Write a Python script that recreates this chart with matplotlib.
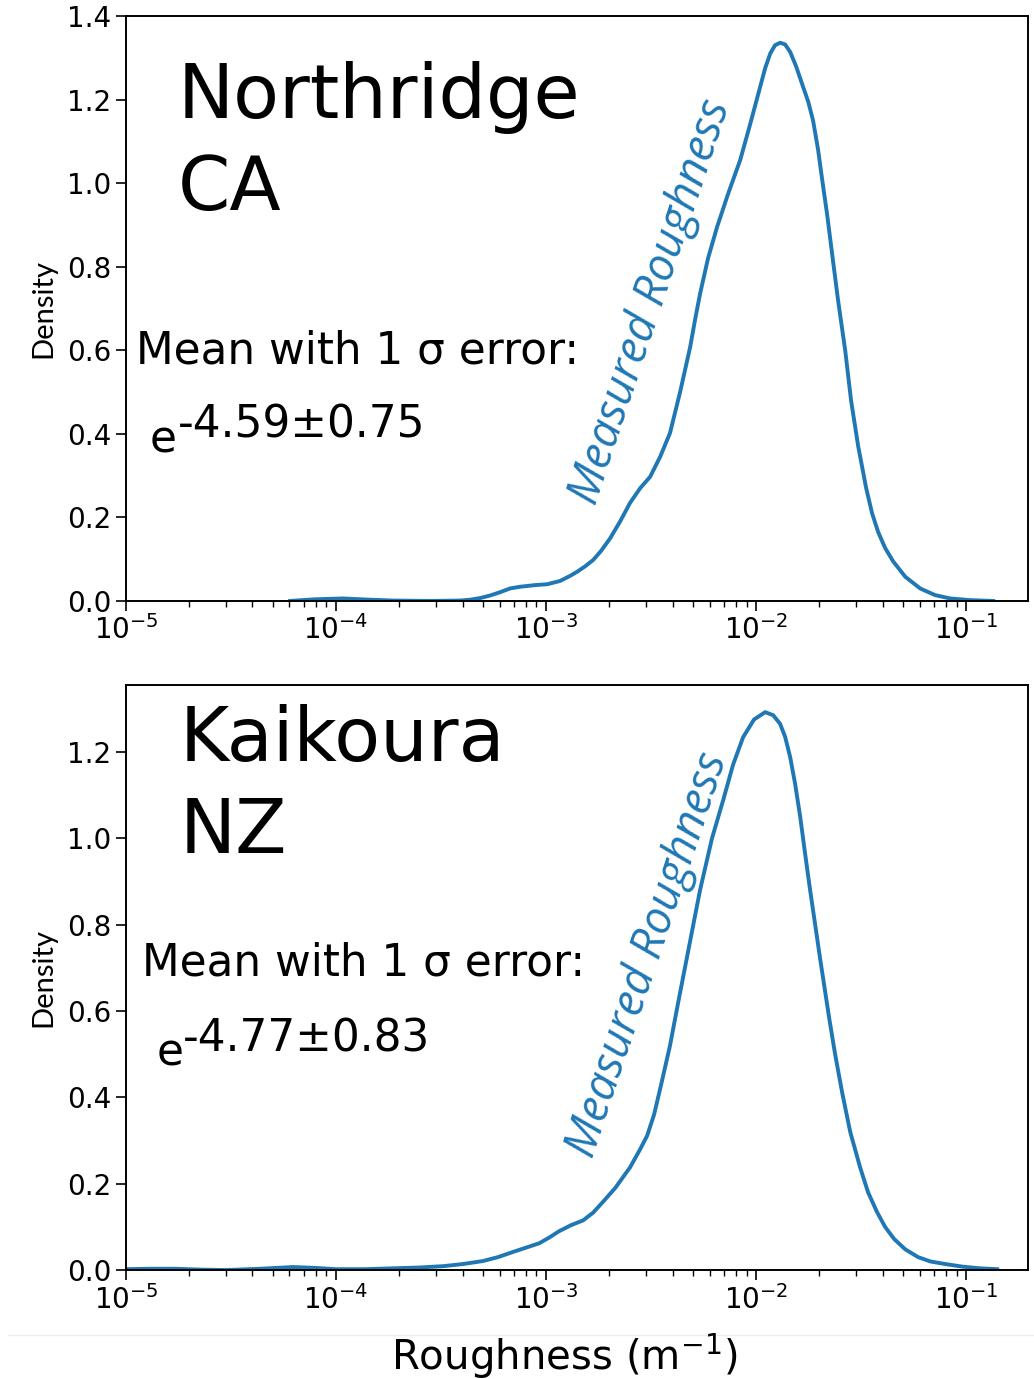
import numpy as np
import matplotlib
matplotlib.use("Agg")
import matplotlib.pyplot as plt
from matplotlib.lines import Line2D

# --- data: log10(roughness [1/m]) and KDE density ---
north_log_r = [-4.219, -4.100, -3.967, -3.838, -3.729, -3.552, -3.410, -3.362,
               -3.314, -3.267, -3.219, -3.171, -3.124, -3.052, -2.995, -2.933,
               -2.886, -2.852, -2.814, -2.776, -2.738, -2.695, -2.648, -2.600,
               -2.552, -2.505, -2.457, -2.410, -2.362, -2.314, -2.290, -2.267,
               -2.229, -2.186, -2.133, -2.076, -2.029, -1.981, -1.957, -1.933,
               -1.910, -1.886, -1.862, -1.838, -1.810, -1.776, -1.752, -1.729,
               -1.705, -1.686, -1.662, -1.638, -1.610, -1.576, -1.548, -1.514,
               -1.476, -1.448, -1.419, -1.386, -1.348, -1.290, -1.219, -1.148,
               -1.076, -0.981, -0.871]
north_dens = [0.0, 0.004, 0.006, 0.003, 0.001, 0.0, 0.001, 0.003,
              0.007, 0.013, 0.021, 0.030, 0.034, 0.038, 0.040, 0.048,
              0.060, 0.070, 0.083, 0.098, 0.120, 0.150, 0.190, 0.235,
              0.270, 0.297, 0.345, 0.402, 0.500, 0.608, 0.675, 0.735,
              0.820, 0.895, 0.975, 1.055, 1.140, 1.230, 1.275, 1.310,
              1.330, 1.336, 1.332, 1.314, 1.280, 1.230, 1.195, 1.150,
              1.080, 1.010, 0.925, 0.830, 0.720, 0.600, 0.480, 0.370,
              0.270, 0.210, 0.165, 0.127, 0.095, 0.058, 0.030, 0.014,
              0.006, 0.002, 0.0]

kaik_log_r = [-5.0, -4.886, -4.762, -4.648, -4.524, -4.362, -4.205, -4.100,
              -4.0, -3.862, -3.729, -3.600, -3.490, -3.395, -3.300, -3.229,
              -3.157, -3.095, -3.033, -2.986, -2.938, -2.881, -2.824, -2.776,
              -2.729, -2.671, -2.600, -2.552, -2.519, -2.486, -2.452, -2.410,
              -2.371, -2.319, -2.267, -2.210, -2.157, -2.110, -2.062, -2.010,
              -1.957, -1.919, -1.886, -1.862, -1.838, -1.814, -1.790, -1.767,
              -1.743, -1.719, -1.695, -1.652, -1.624, -1.590, -1.552, -1.505,
              -1.467, -1.424, -1.386, -1.343, -1.290, -1.229, -1.171, -1.100,
              -1.019, -0.933, -0.852]
kaik_dens = [0.002, 0.003, 0.003, 0.001, 0.0, 0.003, 0.007, 0.005,
             0.002, 0.002, 0.004, 0.006, 0.009, 0.014, 0.021, 0.030,
             0.042, 0.052, 0.062, 0.075, 0.090, 0.104, 0.115, 0.133,
             0.158, 0.190, 0.238, 0.280, 0.311, 0.360, 0.430, 0.520,
             0.620, 0.750, 0.880, 1.000, 1.088, 1.170, 1.234, 1.275,
             1.292, 1.285, 1.265, 1.235, 1.188, 1.125, 1.049, 0.965,
             0.880, 0.800, 0.720, 0.583, 0.500, 0.410, 0.320, 0.238,
             0.180, 0.134, 0.100, 0.072, 0.048, 0.030, 0.020, 0.014,
             0.008, 0.004, 0.002]

sites = ["Northridge\nCA", "Kaikoura\nNZ"]
mean_exp = ["-4.59\u00b10.75", "-4.77\u00b10.83"]

blue = "#1f77b4"

fig = plt.figure(figsize=(10.34, 13.79), dpi=100)
ax_top = fig.add_axes([0.1219, 0.5642, 0.8723, 0.4242])
ax_bot = fig.add_axes([0.1219, 0.0790, 0.8723, 0.4243])

# text positions in axes fraction (per panel)
site_xy = [(0.0576, 0.6684), (0.0599, 0.7128)]
mean_xy = [(0.0111, 0.4068), (0.0177, 0.504)]
e_xy = [(0.0266, 0.253), (0.0344, 0.349)]
exp_xy = [(0.0576, 0.2786), (0.0632, 0.374)]
label_xy = [(0.5827, 0.5111), (0.5794, 0.5385)]

panels = [(ax_top, north_log_r, north_dens), (ax_bot, kaik_log_r, kaik_dens)]
for i, (ax, lr, d) in enumerate(panels):
    ax.plot(10 ** np.array(lr), d, color=blue, lw=2.8)
    ax.set_xscale("log")
    ax.set_xlim(1e-5, 0.197)
    if i == 0:
        ax.set_ylim(0, 1.4)
        ax.set_yticks(np.arange(0, 1.41, 0.2))
    else:
        ax.set_ylim(0, 1.355)
        ax.set_yticks(np.arange(0, 1.21, 0.2))
    ax.set_ylabel("Density", fontsize=21, family="Lato", labelpad=8)
    ax.tick_params(axis="both", which="major", labelsize=20, length=7, width=1.2)
    ax.tick_params(axis="both", which="minor", length=4, width=1.0)
    for s in ax.spines.values():
        s.set_linewidth(1.4)

    tr = ax.transAxes
    ax.text(*site_xy[i], sites[i], transform=tr, fontsize=54,
            va="baseline", ha="left", linespacing=1.33)
    ax.text(*mean_xy[i], "Mean with 1 \u03c3 error:", transform=tr,
            fontsize=31.5, va="baseline", ha="left")
    ax.text(*e_xy[i], "e", transform=tr, fontsize=31.5, va="baseline", ha="left")
    ax.text(*exp_xy[i], mean_exp[i], transform=tr, fontsize=31.5,
            va="baseline", ha="left")
    ax.text(*label_xy[i], "Measured Roughness", transform=tr, color=blue,
            fontsize=32.5, family="Open Sans", style="italic", rotation=71.5,
            rotation_mode="anchor", ha="center", va="center")

fig.add_artist(Line2D([0.008, 1.0], [0.0319, 0.0319], transform=fig.transFigure,
                      color="#eeeeee", lw=1))
fig.text(0.546, 0.0065, "Roughness (m$^{\\mathregular{-1}}$)", fontsize=29,
         ha="center", va="baseline")

fig.savefig("out.png", dpi=100)
